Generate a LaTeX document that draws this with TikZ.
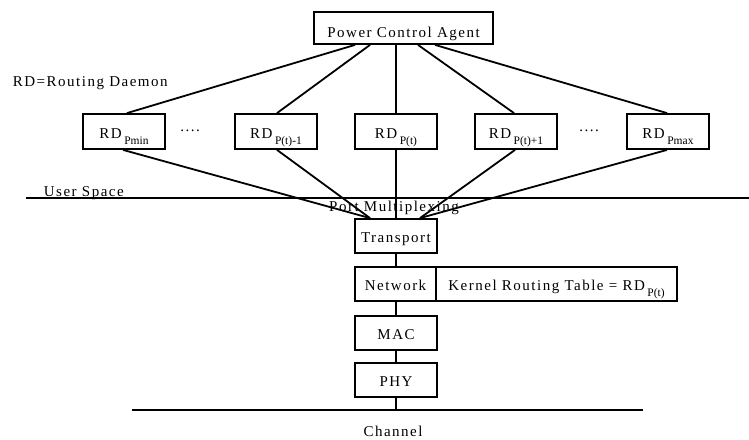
\documentclass[tikz,border=0pt]{standalone}
\usepackage{fontspec}
\setmainfont{Liberation Serif}[LetterSpace=10]
\newfontfamily\subfont{Liberation Serif}
\newcommand\rdsub[1]{\,\raisebox{-6pt}{\subfont\fontsize{11.5}{13}\selectfont #1}}
\begin{document}
\begin{tikzpicture}[x=1pt,y=-1pt,line width=1.8pt,font=\fontsize{15}{18}\selectfont,
  box/.style={draw,rectangle,inner sep=0pt,minimum height=34pt,minimum width=82pt,text height=13pt,text depth=0pt},
  lbl/.style={inner sep=0pt}]
\useasboundingbox (0,0) rectangle (749,439);
% top agent
\node[box,minimum width=179pt,minimum height=32pt,text height=18pt] (pca) at (403.5,28) {Power Control Agent};
% routing daemons
\node[box,minimum height=35pt] (pmin) at (124,131.5) {RD\rdsub{Pmin}};
\node[box,minimum height=35pt] (pm1) at (276,131.5) {RD\rdsub{P(t)-1}};
\node[box,minimum height=35pt] (pt) at (396,131.5) {RD\rdsub{P(t)}};
\node[box,minimum height=35pt] (pp1) at (516,131.5) {RD\rdsub{P(t)+1}};
\node[box,minimum height=35pt] (pmax) at (668,131.5) {RD\rdsub{Pmax}};
\node[lbl,anchor=base] (dots1) at (190,131) {....};
\node[lbl,anchor=base] (dots2) at (589,131) {....};
% stack
\node[box] (tr) at (396,236) {Transport};
\node[box,minimum width=81pt] (net) at (395.5,284) {Network};
\node[box,minimum width=241pt] (krt) at (556.5,284) {Kernel Routing Table = RD\rdsub{P(t)}};
\node[box] (mac) at (396,333) {MAC};
\node[box] (phy) at (396,380) {PHY};
% labels
\node[lbl,anchor=base west] (rdlabel) at (12,86) {RD=Routing Daemon};
\node[lbl,anchor=base west] (uslabel) at (43,196) {User Space};
\node[lbl,anchor=base] (pmlabel) at (394,211) {Port Multiplexing};
\node[lbl,anchor=base] (chlabel) at (393,436) {Channel};
% separator lines
\coordinate (us1) at (26,198);
\coordinate (us2) at (749,198);
\coordinate (ch1) at (132,410);
\coordinate (ch2) at (643,410);
\draw (us1) -- (us2);
\draw (ch1) -- (ch2);
% agent to daemons
\draw ([xshift=-48.5pt]pca.south) -- ([xshift=3pt]pmin.north);
\draw ([xshift=-33.5pt]pca.south) -- ([xshift=1pt]pm1.north);
\draw ([xshift=-7.5pt]pca.south) -- (pt.north);
\draw ([xshift=14.5pt]pca.south) -- ([xshift=-2pt]pp1.north);
\draw ([xshift=31.5pt]pca.south) -- ([xshift=-1pt]pmax.north);
% daemons to transport
\draw ([xshift=-1pt]pmin.south) -- ([xshift=-26pt]tr.north);
\draw ([xshift=1pt]pm1.south) -- ([xshift=-26pt]tr.north);
\draw (pt.south) -- (tr.north);
\draw ([xshift=-1pt]pp1.south) -- ([xshift=24pt]tr.north);
\draw ([xshift=-1pt]pmax.south) -- ([xshift=24pt]tr.north);
% stack connectors
\draw (tr.south) -- (tr.south |- net.north);
\draw (tr.south |- net.south) -- (mac.north);
\draw (mac.south) -- (phy.north);
\draw (phy.south) -- (phy.south |- ch1);
\end{tikzpicture}
\end{document}
